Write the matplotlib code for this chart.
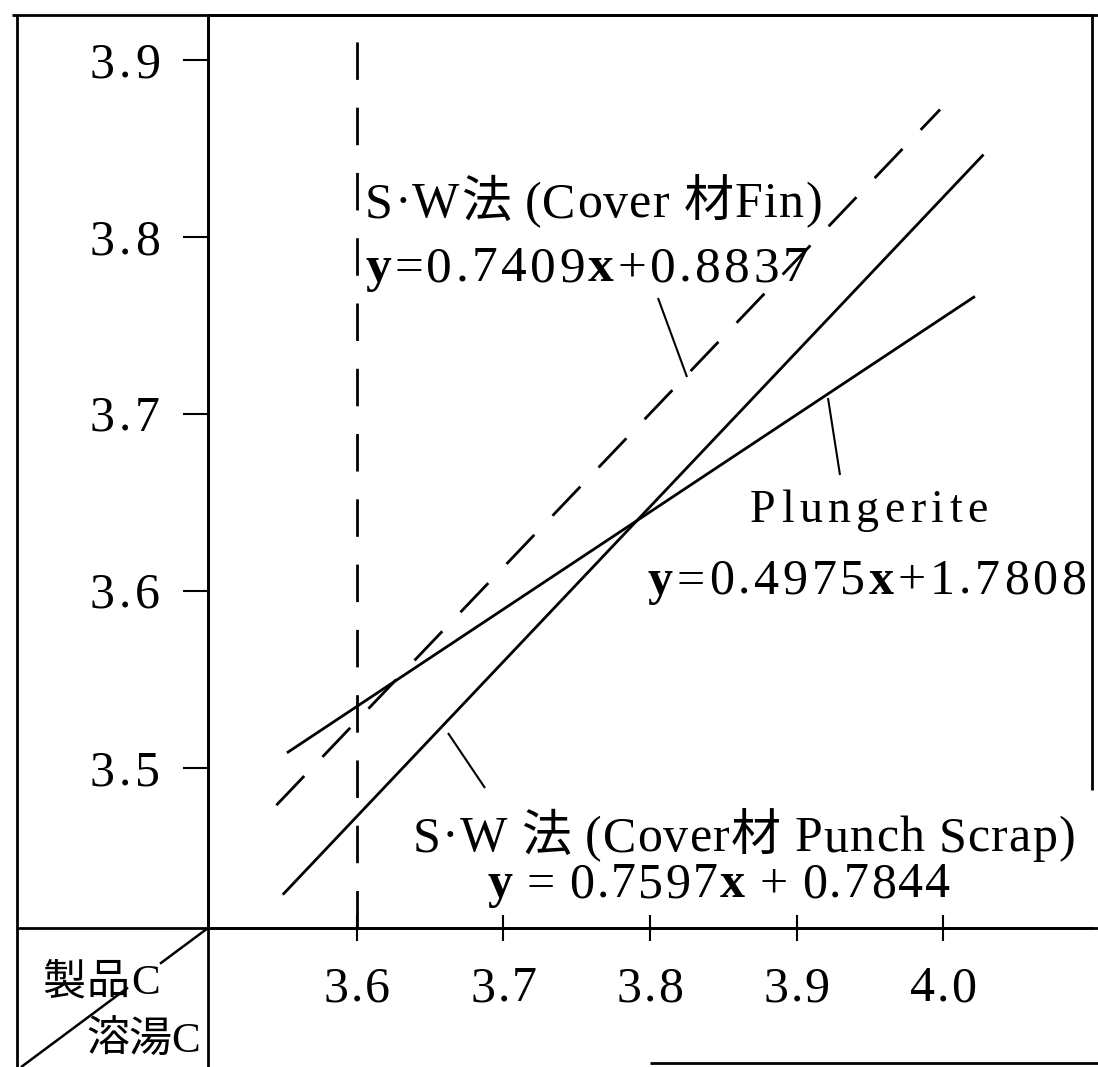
import matplotlib
matplotlib.use('Agg')
import matplotlib.pyplot as plt
from matplotlib.lines import Line2D

plt.rcParams['lines.scale_dashes'] = False
FAM = ['Liberation Serif', 'Noto Sans CJK JP']

# ---------------- data ----------------
x_ticks = [3.6, 3.7, 3.8, 3.9, 4.0]
x_tick_labels = ['3.6', '3.7', '3.8', '3.9', '4.0']
y_ticks = [3.5, 3.6, 3.7, 3.8, 3.9]
y_tick_labels = ['3.5', '3.6', '3.7', '3.8', '3.9']

fin_x = [3.545, 3.998]          # S·W法 (Cover材Fin), dashed
fin_y = [3.479, 3.872]
plunger_x = [3.553, 4.021]      # Plungerite, solid
plunger_y = [3.509, 3.766]
punch_x = [3.550, 4.027]        # S·W法 (Cover材Punch Scrap), solid
punch_y = [3.429, 3.846]
ref_x = 3.6                     # vertical dashed reference line

fin_label = 'S·W法 (Cover 材Fin)'
fin_eq = 'y=0.7409x+0.8837'
plunger_label = 'Plungerite'
plunger_eq = 'y=0.4975x+1.7808'
punch_label = 'S·W 法 (Cover材 Punch Scrap)'
punch_eq = 'y = 0.7597x + 0.7844'
corner_top = '製品C'
corner_bottom = '溶湯C'

# ---------------- layout ----------------
W, H, DPI = 1098, 1067, 100
fig = plt.figure(figsize=(W / DPI, H / DPI), dpi=DPI)
fig.patch.set_facecolor('white')

AX_L, AX_R, AX_T, AX_B = 208, 1092, 15, 928
ax = fig.add_axes([AX_L / W, (H - AX_B) / H, (AX_R - AX_L) / W, (AX_B - AX_T) / H])
ax.set_xlim(3.4983, 4.1017)
ax.set_ylim(3.4096, 3.9254)

LW = 2.0
for s in ['left', 'bottom', 'top']:
    ax.spines[s].set_linewidth(LW)
ax.spines['right'].set_visible(False)

ax.set_xticks(x_ticks)
ax.set_xticklabels([])
ax.set_yticks(y_ticks)
ax.set_yticklabels([])
ax.tick_params(axis='x', direction='inout', length=19, width=1.5)
ax.tick_params(axis='y', direction='out', length=18, width=1.5)

# data lines
ax.plot(fin_x, fin_y, color='black', lw=LW, linestyle=(0, (29, 19)))
ax.plot(plunger_x, plunger_y, color='black', lw=LW)
ax.plot(punch_x, punch_y, color='black', lw=LW)
ax.axvline(ref_x, ymin=0, ymax=0.99, color='black', lw=LW, linestyle=(0, (27, 20)))


def fline(p0, p1, lw=LW):
    fig.add_artist(Line2D([p0[0] / W, p1[0] / W], [1 - p0[1] / H, 1 - p1[1] / H],
                          color='black', lw=lw, solid_capstyle='butt'))


# outer frame and extended axis lines
fline((AX_R, AX_T), (AX_R, 790))          # right border (partial)
fline((12, AX_T), (W, AX_T))              # top border extended
fline((17, AX_T), (17, H))                # outer left border
fline((17, AX_B), (W, AX_B))              # x-axis extended both sides
fline((AX_L, AX_T), (AX_L, H))            # y-axis extended down
fline((650, 1063), (W, 1063))             # bottom border (right part)

# corner diagonal, broken around text
slope = 0.744
def diag(x):
    return (x, AX_B + (AX_L - x) * slope)
fline(diag(AX_L), diag(160), lw=1.8)
fline(diag(128), diag(21), lw=1.8)

# leader lines
fline((658, 298), (687, 377), lw=1.5)
fline((840, 475), (828, 398), lw=1.5)
fline((485, 788), (448, 733), lw=1.5)

renderer = fig.canvas.get_renderer()


def spaced_text(s, x0, x1, ybase, size, bold=''):
    """Letter-spaced text spanning x0..x1 (pixels) on baseline ybase."""
    em = size * DPI / 72.0
    items = []
    nspace = 0
    for ch in s:
        if ch == ' ':
            nspace += 1
            items.append(None)
            continue
        t = fig.text(0, 1 - ybase / H, ch, fontsize=size, family=FAM,
                     fontweight='bold' if ch in bold else 'normal',
                     ha='left', va='baseline')
        w = t.get_window_extent(renderer).width
        items.append((t, w))
    glyphs = [it for it in items if it is not None]
    natural = sum(w for _, w in glyphs) + nspace * 0.25 * em
    gap = (x1 - x0 - natural) / max(len(glyphs) - 1, 1)
    x = x0
    first = True
    for it in items:
        if it is None:
            x += 0.25 * em
            continue
        t, w = it
        if not first:
            x += gap
        t.set_x(x / W)
        x += w
        first = False


# tick labels (letter-spaced like the print)
for v, lab in zip(x_ticks, x_tick_labels):
    px = 357 + (v - 3.6) * 1465
    spaced_text(lab, px - 33, px + 33, 1001, 36)
for v, lab in zip(y_ticks, y_tick_labels):
    py = 768 - (v - 3.5) * 1770
    spaced_text(lab, 90, 160, py + 17, 36)

spaced_text(fin_label, 365, 822, 217, 36)
spaced_text(fin_eq, 365, 808, 281, 37, bold='yx')
spaced_text(plunger_label, 750, 988, 522, 33)
spaced_text(plunger_eq, 648, 1086, 594, 36, bold='yx')
spaced_text(punch_label, 413, 1075, 851, 36)
spaced_text(punch_eq, 487, 950, 897, 36, bold='yx')
spaced_text(corner_top, 42, 160, 994, 31)
spaced_text(corner_bottom, 86, 200, 1052, 31)

fig.savefig('out.png', dpi=DPI, facecolor='white')
